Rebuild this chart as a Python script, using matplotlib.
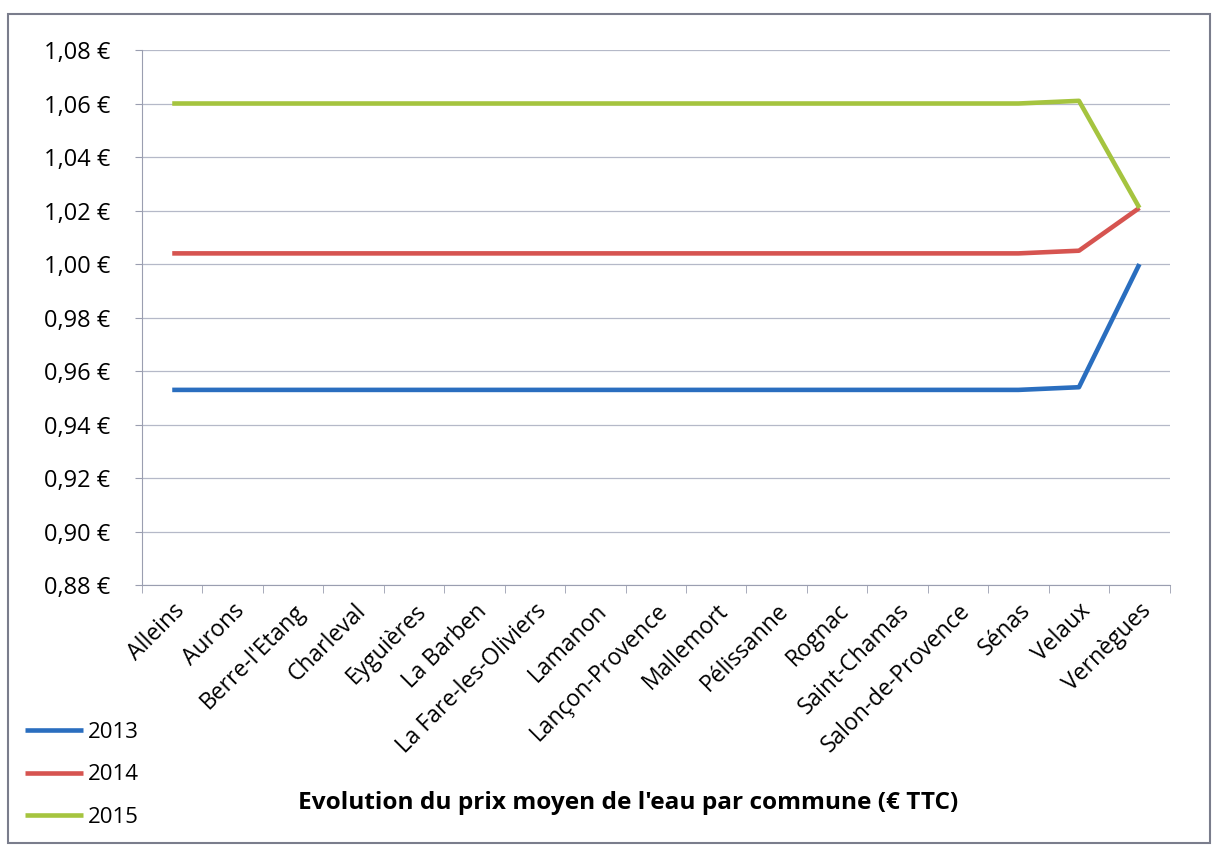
import matplotlib
matplotlib.use("Agg")
import matplotlib.pyplot as plt
from matplotlib.ticker import FuncFormatter, MultipleLocator
from matplotlib.patches import Rectangle

plt.rcParams['font.family'] = ['Open Sans', 'DejaVu Sans']

communes = ["Alleins", "Aurons", "Berre-l'Etang", "Charleval", "Eyguières",
            "La Barben", "La Fare-les-Oliviers", "Lamanon", "Lançon-Provence",
            "Mallemort", "Pélissanne", "Rognac", "Saint-Chamas",
            "Salon-de-Provence", "Sénas", "Velaux", "Vernègues"]

prix_2013 = [0.953, 0.953, 0.953, 0.953, 0.953, 0.953, 0.953, 0.953, 0.953,
             0.953, 0.953, 0.953, 0.953, 0.953, 0.953, 0.954, 1.000]
prix_2014 = [1.004, 1.004, 1.004, 1.004, 1.004, 1.004, 1.004, 1.004, 1.004,
             1.004, 1.004, 1.004, 1.004, 1.004, 1.004, 1.005, 1.021]
prix_2015 = [1.060, 1.060, 1.060, 1.060, 1.060, 1.060, 1.060, 1.060, 1.060,
             1.060, 1.060, 1.060, 1.060, 1.060, 1.060, 1.061, 1.021]

annees = ["2013", "2014", "2015"]
couleurs = ["#2a6ebf", "#d65450", "#a5c43f"]

fig = plt.figure(figsize=(12.19, 8.47), dpi=100)
ax = fig.add_axes([0.1165, 0.309, 0.843, 0.632])

x = list(range(len(communes)))
for serie, annee, c in zip([prix_2013, prix_2014, prix_2015], annees, couleurs):
    ax.plot(x, serie, color=c, lw=3.3, label=annee, solid_capstyle='butt')

ax.set_xlim(-0.5, len(communes) - 0.5)
ax.set_ylim(0.88, 1.08)
ax.yaxis.set_major_locator(MultipleLocator(0.02))
ax.yaxis.set_major_formatter(FuncFormatter(lambda v, p: f"{v:.2f} €".replace(".", ",")))
ax.grid(axis='y', color='#b5b9c8', lw=0.9)
ax.set_axisbelow(True)

ax.set_xticks(x)
ax.set_xticklabels(communes, rotation=45, ha='right', rotation_mode='anchor', fontsize=16.5)
ax.set_xticks([i - 0.5 for i in range(len(communes) + 1)], minor=True)
ax.tick_params(axis='x', which='major', length=0, pad=10)
ax.tick_params(axis='x', which='minor', length=6, color='#9a9eb0')
ax.tick_params(axis='y', length=5, color='#9a9eb0', labelsize=17, pad=18)

for s in ['top', 'right']:
    ax.spines[s].set_visible(False)
ax.spines['left'].set_color('#9a9eb0')
ax.spines['bottom'].set_color('#9a9eb0')

fig.legend(loc='upper left', bbox_to_anchor=(0.004, 0.171), frameon=False,
           fontsize=16, handlelength=2.6, handletextpad=0.25, labelspacing=0.96)

fig.text(0.515, 0.052, "Evolution du prix moyen de l'eau par commune (€ TTC)",
         ha='center', va='center', fontsize=17.6, fontweight='bold')

fig.patches.append(Rectangle((8 / 1219, 4 / 847), 1202 / 1219, 829 / 847,
                             transform=fig.transFigure, fill=False,
                             edgecolor='#7a7d8c', lw=1.5))

fig.savefig("out.png", dpi=100)
